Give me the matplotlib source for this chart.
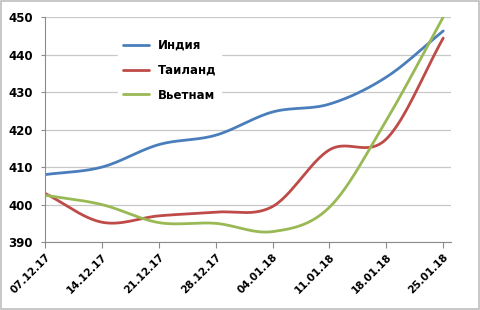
import numpy as np
import matplotlib
matplotlib.use("Agg")
import matplotlib.pyplot as plt

# ---- data ----
dates = ["07.12.17", "14.12.17", "21.12.17", "28.12.17",
         "04.01.18", "11.01.18", "18.01.18", "25.01.18"]
india = [408.0, 410.0, 416.0, 418.5, 424.7, 426.8, 434.0, 446.3]
thailand = [403.0, 395.3, 397.0, 398.0, 399.5, 414.6, 417.5, 444.4]
vietnam = [402.5, 400.0, 395.2, 395.0, 392.8, 399.3, 422.5, 450.0]


def smooth(x, y, n=30):
    """Catmull-Rom curve through the points (like Excel smoothed lines)."""
    x = np.asarray(x, float)
    y = np.asarray(y, float)
    px = np.concatenate([[2 * x[0] - x[1]], x, [2 * x[-1] - x[-2]]])
    py = np.concatenate([[2 * y[0] - y[1]], y, [2 * y[-1] - y[-2]]])
    xs, ys = [], []
    t = np.linspace(0, 1, n)
    for i in range(1, len(px) - 2):
        for p, out in ((px, xs), (py, ys)):
            p0, p1, p2, p3 = p[i - 1], p[i], p[i + 1], p[i + 2]
            c1 = p1 + (p2 - p0) / 6
            c2 = p2 - (p3 - p1) / 6
            out.append((1 - t) ** 3 * p1 + 3 * (1 - t) ** 2 * t * c1
                       + 3 * (1 - t) * t ** 2 * c2 + t ** 3 * p2)
    return np.concatenate(xs), np.concatenate(ys)


fig = plt.figure(figsize=(4.8, 3.1), dpi=100)
ax = fig.add_axes([0.094, 0.219, 0.846, 0.726])

pos = np.arange(len(dates))
series = [("Индия", india, "#4a7ebb"),
          ("Таиланд", thailand, "#be4b48"),
          ("Вьетнам", vietnam, "#98b954")]
for name, vals, col in series:
    sx, sy = smooth(pos, vals)
    ax.plot(sx, sy, color=col, linewidth=2.0, label=name,
            solid_capstyle="round")

ax.set_ylim(390, 450)
ax.set_yticks(np.arange(390, 451, 10))
ax.set_xlim(0, 7.14)
ax.set_xticks(pos)
ax.set_xticklabels(dates, rotation=45, ha="right", rotation_mode="anchor",
                   fontweight="bold", fontsize=7.5)
for lab in ax.get_yticklabels():
    lab.set_fontweight("bold")
    lab.set_fontsize(8.5)

ax.grid(axis="y", color="#c8c8c8", linewidth=0.9)
ax.set_axisbelow(True)
for s in ["top", "right"]:
    ax.spines[s].set_visible(False)
for s in ["left", "bottom"]:
    ax.spines[s].set_color("#8c8c8c")
ax.tick_params(axis="x", length=4, color="#8c8c8c", pad=3)
ax.tick_params(axis="y", length=3, color="#8c8c8c", pad=6)

leg = ax.legend(loc="upper left", bbox_to_anchor=(0.165, 0.95), frameon=True,
                prop={"weight": "bold", "size": 8.5}, handlelength=2.2,
                labelspacing=1.0, borderpad=0.4)
leg.get_frame().set_facecolor("white")
leg.get_frame().set_edgecolor("white")
leg.get_frame().set_alpha(1)

fig.patches.append(plt.Rectangle((0.002, 0.003), 0.995, 0.994,
                                 transform=fig.transFigure, fill=False,
                                 edgecolor="#bfbfbf", linewidth=1.2))

fig.savefig("out.png", dpi=100)
